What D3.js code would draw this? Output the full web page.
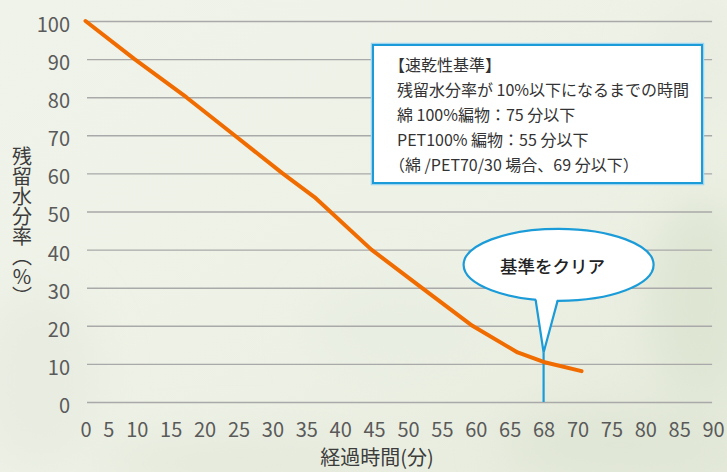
<!DOCTYPE html>
<html>
<head>
<meta charset="utf-8">
<script src="https://cdn.jsdelivr.net/npm/d3@7"></script>
<style>
  body { margin: 0; background: #eef1e6; }
  svg { display: block; font-family: "Noto Sans CJK JP", "Noto Sans", sans-serif; }
</style>
</head>
<body>
<div id="chart"></div>
<script>
const width = 727;
const height = 472;

var color_line = '#f06c00';
var color_blue = '#1b9cd8';
var color_grid = '#a9a9a9';
var color_text = '#5a5a5a';

// tick labels on the time axis (68 is where the line crosses 10%)
const xLabels = [0, 5, 10, 15, 20, 25, 30, 35, 40, 45, 50, 55, 60, 65, 68, 70, 75, 80, 85, 90];
const yTicks = [0, 10, 20, 30, 40, 50, 60, 70, 80, 90, 100];

// drying curve
const times    = [0, 9.6, 17.3, 24.4, 31.5, 36.2, 44.6, 52, 59.5, 65.7, 68, 70.6];
const moisture = [100, 90, 80, 70, 60, 53.8, 40, 30, 20, 13, 10.5, 8.1];

const clearTime = 68;
const clearLevel = 13;   // where the callout tail points
const calloutText = '基準をクリア';
const noteLines = [
  '【速乾性基準】',
  '残留水分率が 10%以下になるまでの時間',
  '綿 100%編物：75 分以下',
  'PET100% 編物：55 分以下',
  '（綿 /PET70/30 場合、69 分以下）'
];
const yTitle = '残留水分率（%）';
const xTitle = '経過時間(分)';

var svg = d3.select("div#chart")
  .append("svg")
  .attr("width", width)
  .attr("height", height)
  .attr("viewBox", "0 0 " + width + " " + height);

// soft leafy background
var defs = svg.append("defs");
var bg = defs.append("linearGradient").attr("id", "bg")
  .attr("x1", 0).attr("y1", 0).attr("x2", 1).attr("y2", 1);
bg.append("stop").attr("offset", "0%").attr("stop-color", "#f0f3ea");
bg.append("stop").attr("offset", "60%").attr("stop-color", "#edf1e5");
bg.append("stop").attr("offset", "100%").attr("stop-color", "#e4e9da");
defs.append("filter").attr("id", "blur")
  .attr("x", "-50%").attr("y", "-50%").attr("width", "200%").attr("height", "200%")
  .append("feGaussianBlur").attr("stdDeviation", 22);

svg.append("rect").attr("width", width).attr("height", height).attr("fill", "url(#bg)");
var blobs = svg.append("g").attr("filter", "url(#blur)");
[[700, 300, 50, 100, '#dee5d3'], [620, 445, 120, 35, '#e0e6d6'], [240, 462, 140, 25, '#e4e9dc'],
 [40, 380, 60, 90, '#e8ece1'], [700, 60, 50, 60, '#eaeee2'], [400, 330, 90, 50, '#e9eee2']]
  .forEach(function(b) {
    blobs.append("ellipse").attr("cx", b[0]).attr("cy", b[1])
      .attr("rx", b[2]).attr("ry", b[3]).attr("fill", b[4]);
  });

// the time labels are laid out like one run of text: centre of each label
// follows from the width of the labels before it
const digitW = 11, gapW = 11.9, firstCenter = 85.5;
var centers = [];
var cur = firstCenter - String(xLabels[0]).length * digitW / 2;
xLabels.forEach(function(v) {
  var w = String(v).length * digitW;
  centers.push(cur + w / 2);
  cur += w + gapW;
});

const x = d3.scaleLinear().domain(xLabels).range(centers);
const y = d3.scaleLinear().domain([0, 100]).range([402, 21]);

const gridLeft = x(0) + 1.5;
const gridRight = x(90) - 1;

// y axis + grid
var yAxis = svg.append("g")
  .attr("transform", "translate(" + gridLeft + ",0)")
  .call(d3.axisLeft(y).tickValues(yTicks).tickSizeInner(-(gridRight - gridLeft)).tickSizeOuter(0).tickPadding(17));
yAxis.select(".domain").remove();
yAxis.selectAll("line").attr("stroke", color_grid).attr("stroke-width", 1.4);
yAxis.selectAll("text")
  .attr("fill", color_text)
  .attr("font-size", "20px")
  .attr("font-family", '"Noto Sans CJK JP", sans-serif')
  .attr("dy", "0.52em");

// x axis (labels only)
var xAxis = svg.append("g")
  .attr("transform", "translate(0," + y(0) + ")")
  .call(d3.axisBottom(x).tickValues(xLabels).tickFormat(function(d) { return d; }).tickSize(0).tickPadding(20.8));
xAxis.select(".domain").remove();
xAxis.selectAll("text")
  .attr("fill", color_text)
  .attr("font-size", "20px")
  .attr("font-family", '"Noto Sans CJK JP", sans-serif');

// axis titles
svg.append("text")
  .attr("x", 377)
  .attr("y", 465)
  .attr("text-anchor", "middle")
  .attr("font-size", "20px")
  .attr("fill", "#3c3c3c")
  .text(xTitle);

svg.append("text")
  .attr("x", 22)
  .attr("y", 146)
  .attr("font-size", "20px")
  .attr("fill", "#3c3c3c")
  .style("writing-mode", "vertical-rl")
  .style("text-orientation", "upright")
  .text(yTitle);

// marker line at 68 min
svg.append("line")
  .attr("x1", x(clearTime)).attr("x2", x(clearTime))
  .attr("y1", y(0)).attr("y2", y(clearLevel))
  .attr("stroke", color_blue)
  .attr("stroke-width", 2.2);

// drying curve
var data = times.map(function(t, i) { return {t: t, m: moisture[i]}; });
svg.append("path")
  .datum(data)
  .attr("fill", "none")
  .attr("stroke", color_line)
  .attr("stroke-width", 4)
  .attr("stroke-linejoin", "round")
  .attr("stroke-linecap", "round")
  .attr("d", d3.line().x(function(d) { return x(d.t); }).y(function(d) { return y(d.m); }));

// speech bubble
var tipX = x(clearTime), tipY = y(clearLevel);
var cx = tipX + 15, cy = y(36), rx = 95, ry = 36;
var bubble = svg.append("g");
bubble.append("ellipse")
  .attr("cx", cx).attr("cy", cy).attr("rx", rx).attr("ry", ry)
  .attr("fill", "#fff").attr("stroke", color_blue).attr("stroke-width", 2.2);
var baseL = tipX - 8, baseR = tipX + 14;
function ellBottom(px) { return cy + ry * Math.sqrt(1 - Math.pow((px - cx) / rx, 2)); }
bubble.append("path")
  .attr("d", "M" + baseL + "," + (ellBottom(baseL) - 4) + "L" + tipX + "," + tipY + "L" + baseR + "," + (ellBottom(baseR) - 4) + "Z")
  .attr("fill", "#fff");
bubble.append("path")
  .attr("d", "M" + baseL + "," + ellBottom(baseL) + "L" + tipX + "," + tipY + "L" + baseR + "," + ellBottom(baseR))
  .attr("fill", "none").attr("stroke", color_blue).attr("stroke-width", 2.2)
  .attr("stroke-linejoin", "miter");
bubble.append("text")
  .attr("x", cx - 6).attr("y", cy + 8)
  .attr("text-anchor", "middle")
  .attr("font-size", "17.5px")
  .attr("font-weight", 500)
  .attr("fill", "#222")
  .text(calloutText);

// criteria box
svg.append("rect")
  .attr("x", 373).attr("y", 45).attr("width", 329).attr("height", 138)
  .attr("fill", "#fff")
  .attr("stroke", "#9fd5ee").attr("stroke-width", 4.5);
svg.append("rect")
  .attr("x", 373).attr("y", 45).attr("width", 329).attr("height", 138)
  .attr("fill", "#fff")
  .attr("stroke", color_blue).attr("stroke-width", 2);
svg.append("g").selectAll("text")
  .data(noteLines)
  .enter()
  .append("text")
  .attr("x", function(d) { return /^[【（]/.test(d) ? 389 : 397; })
  .attr("y", function(d, i) { return 71 + i * 25; })
  .attr("font-size", "16px")
  .attr("fill", "#333")
  .text(function(d) { return d; });
</script>
</body>
</html>
